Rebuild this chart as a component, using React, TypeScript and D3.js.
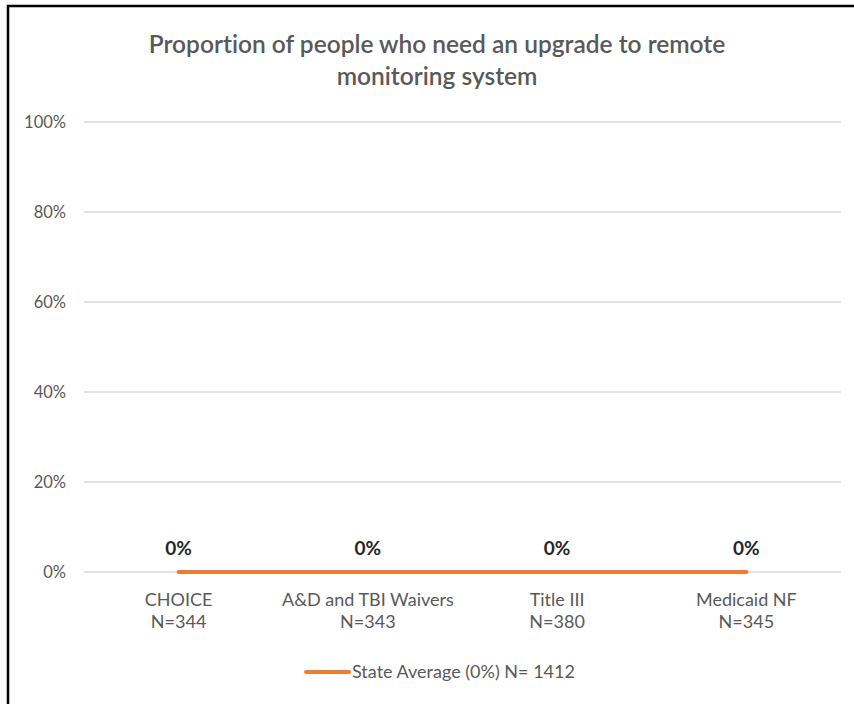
import React from "react";
import * as d3 from "d3";

const categories = ["CHOICE", "A&D and TBI Waivers", "Title III", "Medicaid NF"];
const sampleSizes = ["N=344", "N=343", "N=380", "N=345"];
const values = [0, 0, 0, 0];
const stateAverage = [0, 0, 0, 0];
const yTicks = [0, 0.2, 0.4, 0.6, 0.8, 1.0];
const titleLines = ["Proportion of people who need an upgrade to remote", "monitoring system"];
const legendLabel = "State Average (0%) N= 1412";

const W = 854;
const H = 704;
const FONT = "Lato, 'Open Sans', sans-serif";

export default function App() {
  const left = 84;
  const right = 841;
  const top = 122;
  const bottom = 572;

  const x = d3.scaleBand<string>().domain(categories).range([left, right]).padding(0);
  const y = d3.scaleLinear().domain([0, 1]).range([bottom, top]);
  const cx = (c: string) => (x(c) ?? 0) + x.bandwidth() / 2;

  const line = d3
    .line<number>()
    .x((_, i) => cx(categories[i]))
    .y((d) => y(d));

  return (
    <svg
      width={W}
      height={H}
      style={{ display: "block", position: "absolute", left: 0, top: 0, fontVariantLigatures: "none" }}
    >
      <rect x={0} y={0} width={W} height={H} fill="#fff" />
      <rect x={8} y={6} width={W + 20} height={H + 20} fill="none" stroke="#000" strokeWidth={2.5} />
      {titleLines.map((t, i) => (
        <text
          key={i}
          x={437}
          y={53 + i * 32}
          textAnchor="middle"
          fontFamily={FONT}
          fontSize={24.5}
          fontWeight={600}
          fill="#595959"
        >
          {t}
        </text>
      ))}
      {yTicks.map((t) => (
        <g key={t}>
          <line x1={left} x2={right} y1={y(t)} y2={y(t)} stroke="#d9d9d9" strokeWidth={1.5} />
          <text
            x={66}
            y={y(t)}
            dy="0.35em"
            textAnchor="end"
            fontFamily={FONT}
            fontSize={16.5}
            fill="#595959"
          >
            {d3.format(".0%")(t)}
          </text>
        </g>
      ))}
      <path d={line(stateAverage) ?? ""} fill="none" stroke="#ed7d31" strokeWidth={4} strokeLinecap="round" />
      {categories.map((c, i) => (
        <g key={c}>
          <text
            x={cx(c)}
            y={y(values[i]) - 17}
            textAnchor="middle"
            fontFamily={FONT}
            fontSize={19}
            fontWeight={700}
            fill="#262626"
          >
            {d3.format(".0%")(values[i])}
          </text>
          <text x={cx(c)} y={606} textAnchor="middle" fontFamily={FONT} fontSize={18} fill="#595959">
            {c}
          </text>
          <text x={cx(c)} y={628} textAnchor="middle" fontFamily={FONT} fontSize={18} fill="#595959">
            {sampleSizes[i]}
          </text>
        </g>
      ))}
      <line x1={306} x2={349} y1={672} y2={672} stroke="#ed7d31" strokeWidth={4} strokeLinecap="round" />
      <text x={352} y={678} fontFamily={FONT} fontSize={18} fill="#595959">
        {legendLabel}
      </text>
    </svg>
  );
}
